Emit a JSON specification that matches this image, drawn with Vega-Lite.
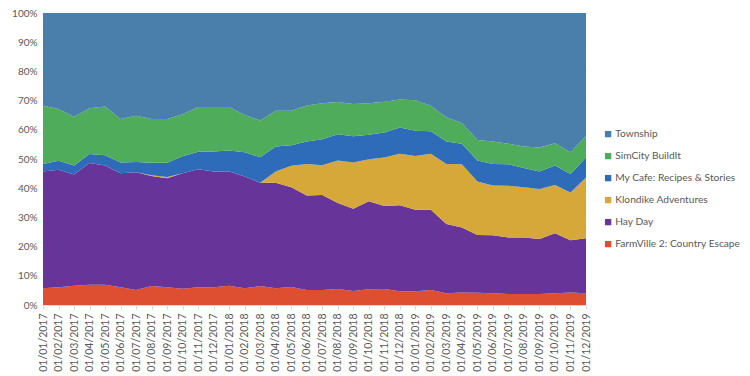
{
  "$schema": "https://vega.github.io/schema/vega-lite/v6.json",
  "autosize": "none",
  "width": 543,
  "height": 292,
  "padding": {"left": 43, "top": 13, "right": 164, "bottom": 71},
  "background": "white",
  "config": {
    "font": "Lato",
    "view": {"stroke": null},
    "axis": {"labelColor": "#595959", "labelFont": "Lato", "titleColor": "#595959"}
  },
  "data": {
    "values": [
      {"date": "01/01/2017", "FarmVille 2: Country Escape": 5.7, "Hay Day": 40.0, "Klondike Adventures": 0, "My Cafe: Recipes & Stories": 2.6, "SimCity BuildIt": 19.9, "Township": 31.8},
      {"date": "01/02/2017", "FarmVille 2: Country Escape": 6.1, "Hay Day": 40.2, "Klondike Adventures": 0, "My Cafe: Recipes & Stories": 3.1, "SimCity BuildIt": 17.7, "Township": 32.9},
      {"date": "01/03/2017", "FarmVille 2: Country Escape": 6.6, "Hay Day": 38.1, "Klondike Adventures": 0, "My Cafe: Recipes & Stories": 3.1, "SimCity BuildIt": 16.7, "Township": 35.5},
      {"date": "01/04/2017", "FarmVille 2: Country Escape": 6.9, "Hay Day": 41.7, "Klondike Adventures": 0, "My Cafe: Recipes & Stories": 3.1, "SimCity BuildIt": 15.7, "Township": 32.6},
      {"date": "01/05/2017", "FarmVille 2: Country Escape": 6.9, "Hay Day": 40.9, "Klondike Adventures": 0, "My Cafe: Recipes & Stories": 3.5, "SimCity BuildIt": 16.7, "Township": 32.0},
      {"date": "01/06/2017", "FarmVille 2: Country Escape": 6.1, "Hay Day": 39.0, "Klondike Adventures": 0, "My Cafe: Recipes & Stories": 3.7, "SimCity BuildIt": 14.9, "Township": 36.3},
      {"date": "01/07/2017", "FarmVille 2: Country Escape": 5.1, "Hay Day": 40.4, "Klondike Adventures": 0, "My Cafe: Recipes & Stories": 3.5, "SimCity BuildIt": 15.8, "Township": 35.2},
      {"date": "01/08/2017", "FarmVille 2: Country Escape": 6.5, "Hay Day": 37.7, "Klondike Adventures": 0.2, "My Cafe: Recipes & Stories": 4.3, "SimCity BuildIt": 15.0, "Township": 36.3},
      {"date": "01/09/2017", "FarmVille 2: Country Escape": 6.1, "Hay Day": 37.3, "Klondike Adventures": 0.4, "My Cafe: Recipes & Stories": 4.9, "SimCity BuildIt": 15.0, "Township": 36.3},
      {"date": "01/10/2017", "FarmVille 2: Country Escape": 5.6, "Hay Day": 39.5, "Klondike Adventures": 0, "My Cafe: Recipes & Stories": 5.8, "SimCity BuildIt": 14.4, "Township": 34.7},
      {"date": "01/11/2017", "FarmVille 2: Country Escape": 6.1, "Hay Day": 40.4, "Klondike Adventures": 0, "My Cafe: Recipes & Stories": 6.0, "SimCity BuildIt": 15.3, "Township": 32.2},
      {"date": "01/12/2017", "FarmVille 2: Country Escape": 6.1, "Hay Day": 39.6, "Klondike Adventures": 0, "My Cafe: Recipes & Stories": 6.9, "SimCity BuildIt": 15.2, "Township": 32.2},
      {"date": "01/01/2018", "FarmVille 2: Country Escape": 6.6, "Hay Day": 39.1, "Klondike Adventures": 0, "My Cafe: Recipes & Stories": 7.2, "SimCity BuildIt": 14.9, "Township": 32.2},
      {"date": "01/02/2018", "FarmVille 2: Country Escape": 5.7, "Hay Day": 38.3, "Klondike Adventures": 0, "My Cafe: Recipes & Stories": 8.3, "SimCity BuildIt": 12.8, "Township": 34.9},
      {"date": "01/03/2018", "FarmVille 2: Country Escape": 6.5, "Hay Day": 35.4, "Klondike Adventures": 0, "My Cafe: Recipes & Stories": 8.7, "SimCity BuildIt": 12.6, "Township": 36.8},
      {"date": "01/04/2018", "FarmVille 2: Country Escape": 5.7, "Hay Day": 36.2, "Klondike Adventures": 3.8, "My Cafe: Recipes & Stories": 8.6, "SimCity BuildIt": 12.2, "Township": 33.5},
      {"date": "01/05/2018", "FarmVille 2: Country Escape": 6.2, "Hay Day": 34.1, "Klondike Adventures": 7.4, "My Cafe: Recipes & Stories": 7.0, "SimCity BuildIt": 11.8, "Township": 33.5},
      {"date": "01/06/2018", "FarmVille 2: Country Escape": 5.1, "Hay Day": 32.4, "Klondike Adventures": 10.8, "My Cafe: Recipes & Stories": 7.7, "SimCity BuildIt": 12.3, "Township": 31.7},
      {"date": "01/07/2018", "FarmVille 2: Country Escape": 5.1, "Hay Day": 32.6, "Klondike Adventures": 10.2, "My Cafe: Recipes & Stories": 8.9, "SimCity BuildIt": 12.3, "Township": 30.9},
      {"date": "01/08/2018", "FarmVille 2: Country Escape": 5.5, "Hay Day": 29.4, "Klondike Adventures": 14.6, "My Cafe: Recipes & Stories": 9.0, "SimCity BuildIt": 11.0, "Township": 30.5},
      {"date": "01/09/2018", "FarmVille 2: Country Escape": 4.8, "Hay Day": 28.2, "Klondike Adventures": 15.8, "My Cafe: Recipes & Stories": 9.0, "SimCity BuildIt": 11.0, "Township": 31.2},
      {"date": "01/10/2018", "FarmVille 2: Country Escape": 5.4, "Hay Day": 30.1, "Klondike Adventures": 14.4, "My Cafe: Recipes & Stories": 8.4, "SimCity BuildIt": 10.8, "Township": 30.9},
      {"date": "01/11/2018", "FarmVille 2: Country Escape": 5.5, "Hay Day": 28.4, "Klondike Adventures": 16.6, "My Cafe: Recipes & Stories": 8.6, "SimCity BuildIt": 10.5, "Township": 30.4},
      {"date": "01/12/2018", "FarmVille 2: Country Escape": 4.7, "Hay Day": 29.5, "Klondike Adventures": 17.6, "My Cafe: Recipes & Stories": 9.0, "SimCity BuildIt": 9.6, "Township": 29.6},
      {"date": "01/01/2019", "FarmVille 2: Country Escape": 4.7, "Hay Day": 27.9, "Klondike Adventures": 18.4, "My Cafe: Recipes & Stories": 8.7, "SimCity BuildIt": 10.4, "Township": 29.9},
      {"date": "01/02/2019", "FarmVille 2: Country Escape": 5.1, "Hay Day": 27.5, "Klondike Adventures": 19.2, "My Cafe: Recipes & Stories": 7.7, "SimCity BuildIt": 8.7, "Township": 31.8},
      {"date": "01/03/2019", "FarmVille 2: Country Escape": 4.0, "Hay Day": 23.7, "Klondike Adventures": 20.6, "My Cafe: Recipes & Stories": 7.7, "SimCity BuildIt": 8.3, "Township": 35.7},
      {"date": "01/04/2019", "FarmVille 2: Country Escape": 4.3, "Hay Day": 22.2, "Klondike Adventures": 21.7, "My Cafe: Recipes & Stories": 7.0, "SimCity BuildIt": 7.1, "Township": 37.7},
      {"date": "01/05/2019", "FarmVille 2: Country Escape": 4.2, "Hay Day": 19.8, "Klondike Adventures": 18.3, "My Cafe: Recipes & Stories": 7.2, "SimCity BuildIt": 7.0, "Township": 43.5},
      {"date": "01/06/2019", "FarmVille 2: Country Escape": 4.0, "Hay Day": 19.9, "Klondike Adventures": 17.0, "My Cafe: Recipes & Stories": 7.4, "SimCity BuildIt": 7.7, "Township": 44.0},
      {"date": "01/07/2019", "FarmVille 2: Country Escape": 3.8, "Hay Day": 19.3, "Klondike Adventures": 17.7, "My Cafe: Recipes & Stories": 7.4, "SimCity BuildIt": 7.0, "Township": 44.8},
      {"date": "01/08/2019", "FarmVille 2: Country Escape": 3.8, "Hay Day": 19.3, "Klondike Adventures": 17.2, "My Cafe: Recipes & Stories": 6.6, "SimCity BuildIt": 7.4, "Township": 45.7},
      {"date": "01/09/2019", "FarmVille 2: Country Escape": 3.8, "Hay Day": 18.8, "Klondike Adventures": 17.1, "My Cafe: Recipes & Stories": 6.0, "SimCity BuildIt": 8.2, "Township": 46.1},
      {"date": "01/10/2019", "FarmVille 2: Country Escape": 4.0, "Hay Day": 20.6, "Klondike Adventures": 16.5, "My Cafe: Recipes & Stories": 6.7, "SimCity BuildIt": 7.6, "Township": 44.6},
      {"date": "01/11/2019", "FarmVille 2: Country Escape": 4.3, "Hay Day": 17.9, "Klondike Adventures": 16.3, "My Cafe: Recipes & Stories": 6.4, "SimCity BuildIt": 7.4, "Township": 47.7},
      {"date": "01/12/2019", "FarmVille 2: Country Escape": 4.0, "Hay Day": 18.9, "Klondike Adventures": 20.8, "My Cafe: Recipes & Stories": 6.8, "SimCity BuildIt": 7.4, "Township": 42.1}
    ]
  },
  "transform": [
    {"fold": ["FarmVille 2: Country Escape", "Hay Day", "Klondike Adventures", "My Cafe: Recipes & Stories", "SimCity BuildIt", "Township"], "as": ["game", "share"]}
  ],
  "mark": {"type": "area", "interpolate": "linear"},
  "encoding": {
    "x": {
      "field": "date",
      "type": "ordinal",
      "sort": null,
      "scale": {"type": "point", "padding": 0},
      "axis": {
        "title": null,
        "labelAngle": 270,
        "labelFontSize": 10.5,
        "labelPadding": 4,
        "domainColor": "#d9d9d9",
        "tickColor": "#d9d9d9",
        "tickSize": 4,
        "grid": false
      }
    },
    "y": {
      "field": "share",
      "type": "quantitative",
      "stack": "normalize",
      "scale": {"domain": [0, 1]},
      "axis": {
        "title": null,
        "format": "%",
        "values": [0, 0.1, 0.2, 0.3, 0.4, 0.5, 0.6, 0.7, 0.8, 0.9, 1],
        "labelFontSize": 10,
        "labelPadding": 6,
        "ticks": false,
        "domain": false,
        "grid": true,
        "gridColor": "#d9d9d9"
      }
    },
    "color": {
      "field": "game",
      "type": "nominal",
      "scale": {
        "domain": ["Township", "SimCity BuildIt", "My Cafe: Recipes & Stories", "Klondike Adventures", "Hay Day", "FarmVille 2: Country Escape"],
        "range": ["#4A7EAB", "#4EAC5B", "#2E6CB9", "#D6A83A", "#673499", "#DE4F32"]
      },
      "legend": {
        "title": null,
        "orient": "none",
        "legendX": 560,
        "legendY": 116,
        "symbolType": "square",
        "symbolSize": 40,
        "symbolStrokeWidth": 0,
        "labelFontSize": 10.2,
        "labelColor": "#595959",
        "labelFont": "Lato",
        "rowPadding": 11,
        "labelOffset": 2,
        "padding": 0,
        "labelLimit": 300
      }
    },
    "order": {"field": "game", "sort": "ascending"}
  }
}
